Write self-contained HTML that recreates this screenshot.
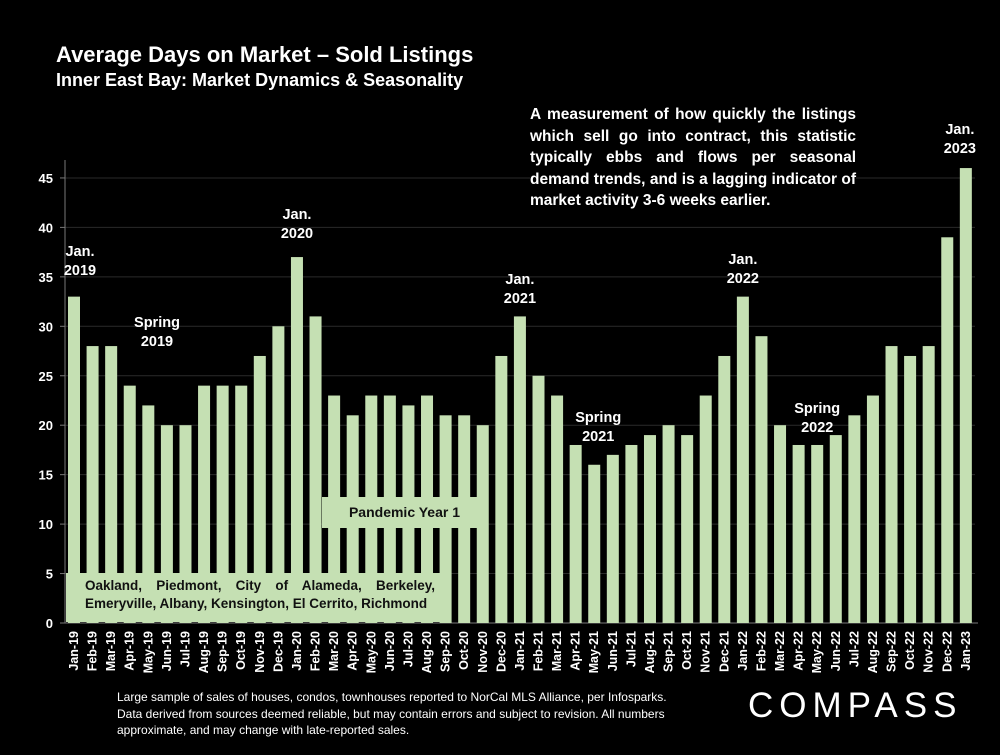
<!DOCTYPE html>
<html><head><meta charset="utf-8">
<style>
body{margin:0;background:#000;width:1000px;height:750px;overflow:hidden;font-family:"Liberation Sans",Arial,sans-serif;}
svg text{font-family:"Liberation Sans",Arial,sans-serif;}
</style></head>
<body>
<svg id="chart" width="1000" height="750" xmlns="http://www.w3.org/2000/svg">
<rect width="1000" height="750" fill="#000"/>
<text x="56" y="62" fill="#fff" font-size="22" font-weight="bold">Average Days on Market – Sold Listings</text>
<text x="56" y="86" fill="#fff" font-size="18" font-weight="bold">Inner East Bay: Market Dynamics &amp; Seasonality</text>
<g id="grid"></g>
<g id="bars"></g>
<g id="ann"></g>
</svg>
<script>
const categories=["Jan-19","Feb-19","Mar-19","Apr-19","May-19","Jun-19","Jul-19","Aug-19","Sep-19","Oct-19","Nov-19","Dec-19","Jan-20","Feb-20","Mar-20","Apr-20","May-20","Jun-20","Jul-20","Aug-20","Sep-20","Oct-20","Nov-20","Dec-20","Jan-21","Feb-21","Mar-21","Apr-21","May-21","Jun-21","Jul-21","Aug-21","Sep-21","Oct-21","Nov-21","Dec-21","Jan-22","Feb-22","Mar-22","Apr-22","May-22","Jun-22","Jul-22","Aug-22","Sep-22","Oct-22","Nov-22","Dec-22","Jan-23"];
const values=[33,28,28,24,22,20,20,24,24,24,27,30,37,31,23,21,23,23,22,23,21,21,20,27,31,25,23,18,16,17,18,19,20,19,23,27,33,29,20,18,18,19,21,23,28,27,28,39,46];
const yTicks=[0,5,10,15,20,25,30,35,40,45];
const NS="http://www.w3.org/2000/svg";
const y0=623, pxPerUnit=9.89, x0=65, pitch=18.58;
function yS(v){return y0-v*pxPerUnit;}
function xS(i){return 74+i*pitch;}
function mk(tag,attrs,parent,txt){const e=document.createElementNS(NS,tag);for(const k in attrs)e.setAttribute(k,attrs[k]);if(txt!==undefined)e.textContent=txt;parent.appendChild(e);return e;}
const grid=document.getElementById('grid'),bars=document.getElementById('bars'),ann=document.getElementById('ann');
yTicks.forEach(t=>{
  if(t>0){const g=mk('line',{x1:x0,x2:975,y1:yS(t),y2:yS(t),stroke:'#2a2a2a','stroke-width':1},grid);
  
  }
  const tk=mk('line',{x1:x0-5,x2:x0,y1:yS(t),y2:yS(t),stroke:'#777'},grid);
  
  
  const l=mk('text',{x:x0-12,y:yS(t)+5,fill:'#fff','font-size':13,'font-weight':'bold','text-anchor':'end'},grid,String(t));
  
  
});
const ax=mk('line',{x1:x0,x2:x0,y1:160,y2:y0,stroke:'#777'},grid);


const xa=mk('line',{x1:x0,x2:978,y1:y0,y2:y0,stroke:'#777'},grid);


values.forEach((v,i)=>{
  const r=mk('rect',{x:xS(i)-6,y:yS(v),width:12,height:v*pxPerUnit,fill:'#c5e0b3'},bars);
  
  
  const t=mk('text',{x:0,y:0,fill:'#fff','font-size':12.5,'font-weight':'bold','text-anchor':'end',transform:`translate(${xS(i)+4},${y0+8}) rotate(-90)`},bars,categories[i]);
  
  
});
function label(lines,x,y,name){const t=mk('text',{x:x,y:y,fill:'#fff','font-size':14.5,'font-weight':'bold','text-anchor':'middle'},ann);


lines.forEach((s,k)=>mk('tspan',{x:x,dy:k?19:0},t,s));}
label(["Jan.","2019"],xS(0)+6,256,'label-jan-2019');
label(["Spring","2019"],157,327,'label-spring-2019');
label(["Jan.","2020"],xS(12),219,'label-jan-2020');
label(["Jan.","2021"],xS(24),284,'label-jan-2021');
label(["Spring","2021"],xS(28)+4,422,'label-spring-2021');
label(["Jan.","2022"],xS(36),264,'label-jan-2022');
label(["Spring","2022"],xS(40),413,'label-spring-2022');
label(["Jan.","2023"],xS(48)-6,134,'label-jan-2023');
</script>
<div style="position:absolute;left:530px;top:104px;width:326px;background:#000;color:#fff;font-size:15.5px;font-weight:bold;line-height:21.5px;text-align:justify;text-align-last:left;">A measurement of how quickly the listings which sell go into contract, this statistic typically ebbs and flows per seasonal demand trends, and is a lagging indicator of market activity 3-6 weeks earlier.</div>
<div style="position:absolute;left:322px;top:497px;width:165px;height:31px;background:#c5e0b3;color:#111;font-size:14px;font-weight:bold;line-height:31px;text-align:center;">Pandemic Year 1</div>
<div style="position:absolute;left:66px;top:573px;width:374px;height:49px;background:#c5e0b3;color:#111;font-size:13.5px;font-weight:bold;line-height:18px;padding:4px 0 0 19px;box-sizing:border-box;text-align:justify;text-align-last:left;"><div style="width:350px">Oakland, Piedmont, City of Alameda, Berkeley, Emeryville, Albany, Kensington, El Cerrito, Richmond</div></div>
<div style="position:absolute;left:117px;top:689px;width:575px;color:#fff;font-size:12px;line-height:16.5px;">Large sample of sales of houses, condos, townhouses reported to NorCal MLS Alliance, per Infosparks. Data derived from sources deemed reliable, but may contain errors and subject to revision. All numbers approximate, and may change with late-reported sales.</div>
<div style="position:absolute;left:748px;top:686px;color:#fff;font-size:35px;letter-spacing:6px;">COMPASS</div>
</body></html>
